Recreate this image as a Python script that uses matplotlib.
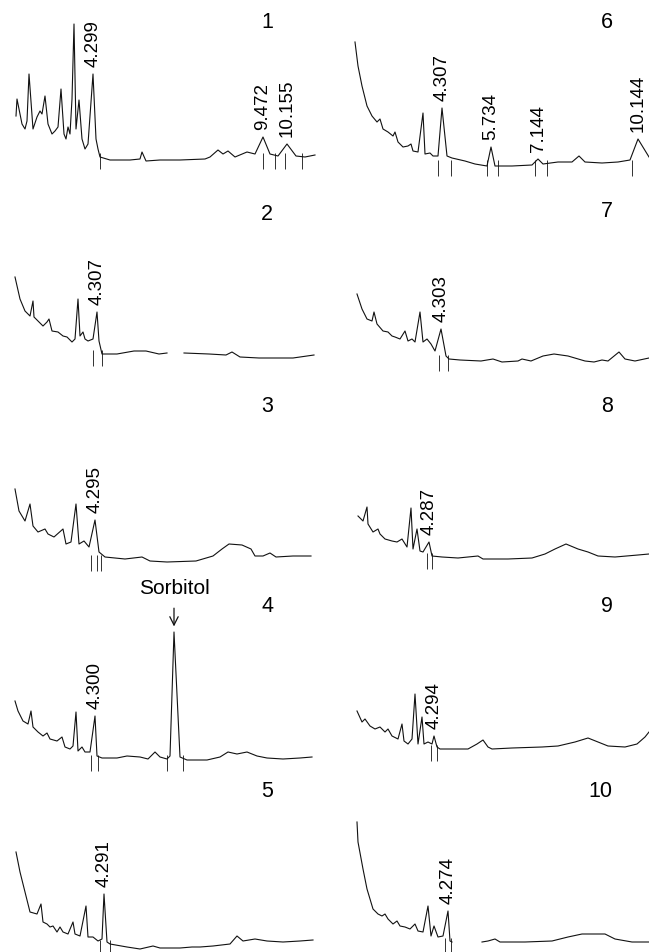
import numpy as np
import matplotlib
matplotlib.use("Agg")
import matplotlib.pyplot as plt

plt.rcParams['font.family'] = ['Liberation Sans', 'DejaVu Sans']

W, H = 649, 953

# retention time (min) and detector response for each chromatogram
p1_t = [1.98, 2.01, 2.16, 2.25, 2.31, 2.37, 2.49, 2.61, 2.70, 2.76, 2.85, 2.94, 3.06, 3.15, 3.24, 3.33,
        3.42, 3.48, 3.54, 3.60, 3.66, 3.72, 3.78, 3.87, 3.96, 4.05, 4.14, 4.29, 4.38, 4.44, 4.50, 4.80,
        5.40, 5.70, 5.76, 5.88, 6.30, 6.90, 7.65, 7.80, 8.04, 8.19, 8.34, 8.55, 8.91, 9.15, 9.39, 9.60,
        9.84, 10.11, 10.38, 10.65, 10.95]
p1_h = [41, 58, 33, 28, 36, 83, 28, 40, 46, 43, 61, 33, 23, 26, 30, 68,
        23, 18, 30, 23, 58, 133, 28, 57, 18, 8, 13, 83, 18, 8, 0, -3,
        -3, -2, 5, -4, -3, -3, -2, 0, 7, 3, 6, 0, 5, 3, 20, 3,
        1, 13, 1, 0, 2]
p1_ticks = [4.50, 9.39, 9.75, 10.05, 10.56]
p1_peaks = [("4.299", 4.29, 83), ("9.472", 9.39, 20), ("10.155", 10.11, 13)]

p2_t = [1.95, 2.10, 2.25, 2.40, 2.49, 2.52, 2.64, 2.79, 2.91, 2.97, 3.06, 3.24, 3.39, 3.51, 3.66, 3.75,
        3.84, 3.90, 3.99, 4.05, 4.14, 4.29, 4.41, 4.47, 4.56, 5.01, 5.52, 5.88, 6.27, 6.51, 6.70,
        7.02, 7.77, 8.28, 8.46, 8.70, 9.27, 10.29, 10.92]
p2_h = [77, 55, 43, 38, 53, 37, 33, 28, 32, 35, 23, 22, 18, 17, 12, 15,
        55, 18, 22, 15, 13, 15, 42, 13, 0, 0, 3, 3, 0, 1, np.nan,
        1, 0, -1, 2, -3, -4, -4, -1]
p2_ticks = [4.29, 4.56]
p2_peaks = [("4.307", 4.41, 42)]

p3_t = [1.95, 2.07, 2.25, 2.40, 2.49, 2.64, 2.85, 2.94, 3.12, 3.39, 3.48, 3.63, 3.78, 3.87, 4.02, 4.17,
        4.35, 4.47, 4.65, 5.25, 5.76, 6.00, 6.51, 7.38, 7.89, 8.16, 8.37, 8.76, 9.03, 9.15, 9.39,
        9.60, 9.78, 10.29, 10.83]
p3_h = [70, 48, 38, 55, 33, 27, 30, 25, 22, 30, 15, 17, 55, 15, 18, 12,
        39, 7, 2, 0, 2, -2, -3, -2, 3, 10, 15, 14, 10, 3, 3,
        6, 2, 3, 3]
p3_ticks = [4.23, 4.41, 4.53]
p3_peaks = [("4.295", 4.35, 39)]

p4_t = [1.95, 2.04, 2.19, 2.34, 2.43, 2.49, 2.64, 2.79, 2.91, 3.00, 3.21, 3.36, 3.45, 3.60, 3.69, 3.78,
        3.84, 3.96, 4.05, 4.20, 4.35, 4.41, 4.56, 5.01, 5.31, 5.70, 5.94, 6.15, 6.30, 6.51, 6.60,
        6.72, 6.90, 7.11, 7.71, 8.10, 8.34, 8.61, 8.91, 9.21, 9.51, 9.99, 10.50, 10.86]
p4_h = [58, 48, 38, 35, 48, 32, 27, 23, 26, 20, 18, 22, 12, 10, 13, 47,
        8, 12, 7, 7, 43, 3, 1, 1, 3, 2, 0, 7, 2, 0, 3,
        127, 2, -1, -1, 2, 7, 5, 7, 3, 1, 0, 1, 2]
p4_ticks = [4.23, 4.44, 6.51, 6.99]
p4_peaks = [("4.300", 4.35, 43)]
sorbitol_t, sorbitol_h = 6.72, 127

p5_t = [1.98, 2.10, 2.25, 2.40, 2.61, 2.73, 2.79, 2.91, 3.00, 3.09, 3.21, 3.30, 3.39, 3.54, 3.69, 3.75,
        3.90, 4.08, 4.14, 4.29, 4.44, 4.56, 4.62, 4.71, 4.80, 5.31, 5.70, 6.09, 6.30, 6.90, 7.26,
        7.50, 7.89, 8.40, 8.61, 8.79, 9.15, 9.51, 9.99, 10.50, 10.89]
p5_h = [92, 72, 52, 32, 30, 40, 22, 20, 17, 18, 12, 17, 12, 10, 22, 10,
        8, 38, 7, 7, 3, 5, 50, 2, 0, -3, -5, -2, -4, -4, -3,
        -3, -2, 0, 8, 3, 5, 3, 2, 3, 4]
p5_ticks = [4.50, 4.80]
p5_peaks = [("4.291", 4.62, 50)]

p6_t = [1.71, 1.80, 1.92, 2.07, 2.22, 2.37, 2.46, 2.55, 2.70, 2.85, 2.91, 3.00, 3.15, 3.30, 3.39, 3.45,
        3.60, 3.75, 3.81, 3.96, 4.05, 4.20, 4.32, 4.47, 4.62, 5.01, 5.31, 5.67, 5.79, 5.91, 6.42,
        7.02, 7.20, 7.35, 7.80, 8.22, 8.43, 8.61, 9.12, 9.60, 9.96, 10.20, 10.53]
p6_h = [122, 98, 78, 58, 48, 42, 45, 35, 32, 28, 32, 22, 17, 18, 20, 13,
        12, 51, 10, 11, 8, 8, 56, 8, 6, 3, 0, -2, 17, -2, -2,
        -1, 5, 0, 2, 2, 8, 2, 1, 2, 4, 25, 7]
p6_ticks = [4.20, 4.59, 5.67, 6.00, 7.11, 7.47, 10.02]
p6_peaks = [("4.307", 4.32, 56), ("5.734", 5.79, 17), ("7.144", 7.20, 5), ("10.144", 10.20, 25)]

p7_t = [1.77, 1.92, 2.07, 2.22, 2.28, 2.37, 2.55, 2.70, 2.82, 2.91, 3.06, 3.21, 3.30, 3.42, 3.51, 3.66,
        3.75, 3.87, 3.99, 4.11, 4.29, 4.44, 4.53, 4.86, 5.49, 5.85, 6.12, 6.60, 6.72, 6.99, 7.35,
        7.68, 8.10, 8.61, 8.88, 9.12, 9.30, 9.63, 9.81, 10.11, 10.53]
p7_h = [65, 50, 40, 38, 47, 35, 28, 27, 23, 22, 20, 28, 18, 20, 17, 47,
        17, 20, 15, 8, 30, 3, 0, -1, -2, 0, -3, -2, 0, -2, 3,
        5, 3, -2, -3, -1, -2, 7, 0, -2, 1]
p7_ticks = [4.23, 4.50]
p7_peaks = [("4.303", 4.29, 30)]

p8_t = [1.80, 1.95, 2.07, 2.10, 2.25, 2.40, 2.46, 2.61, 2.82, 2.97, 3.12, 3.27, 3.39, 3.45, 3.57, 3.66,
        3.75, 3.93, 4.02, 4.32, 4.80, 5.40, 5.55, 6.30, 7.02, 7.41, 7.71, 8.04, 8.40, 8.70, 9.00,
        9.51, 10.20, 10.53]
p8_h = [41, 36, 50, 33, 25, 28, 23, 18, 16, 15, 18, 10, 49, 8, 28, 6,
        5, 15, 1, 0, -1, 1, -2, -2, -1, 3, 8, 13, 8, 5, 1,
        0, 2, 3]
p8_ticks = [3.87, 4.02]
p8_peaks = [("4.287", 3.93, 15)]

p9_t = [1.77, 1.92, 2.01, 2.16, 2.31, 2.46, 2.61, 2.70, 2.82, 3.00, 3.12, 3.18, 3.30, 3.42, 3.51, 3.60,
        3.72, 3.78, 3.90, 4.02, 4.08, 4.17, 4.26, 5.10, 5.37, 5.55, 5.70, 5.82, 6.42, 7.32, 7.80,
        8.31, 8.70, 9.00, 9.30, 9.81, 10.17, 10.41, 10.53]
p9_h = [38, 27, 30, 23, 20, 22, 17, 20, 13, 10, 25, 8, 5, 10, 55, 5,
        32, 5, 7, 5, 13, 2, 0, 0, 5, 9, 2, 0, 1, 2, 3,
        7, 11, 7, 3, 2, 5, 12, 17]
p9_ticks = [3.99, 4.17]
p9_peaks = [("4.294", 4.08, 13)]

p10_t = [1.77, 1.80, 1.95, 2.07, 2.25, 2.40, 2.52, 2.61, 2.70, 2.85, 2.97, 3.06, 3.21, 3.36, 3.51, 3.60,
         3.75, 3.90, 3.99, 4.08, 4.20, 4.35, 4.50, 4.56, 4.62, 5.00, 5.52, 5.70, 5.91, 6.06, 6.81,
         7.62, 8.10, 8.52, 8.82, 9.21, 9.51, 10.02, 10.53]
p10_h = [120, 100, 73, 53, 33, 28, 26, 28, 23, 18, 21, 16, 15, 13, 18, 11,
         10, 36, 6, 16, 5, 6, 31, 1, 0, np.nan, 0, 1, 3, 0, 0,
         1, 5, 8, 8, 8, 3, 0, 0]
p10_ticks = [4.41, 4.59]
p10_peaks = [("4.274", 4.50, 31)]

LEFT_XLIM = (1.5, 11.25)
RIGHT_XLIM = (0.81, 10.53)

panels = [
    ("1", p1_t, p1_h, p1_ticks, p1_peaks, (0, 325, 0, 190), 158, LEFT_XLIM, (267, 22)),
    ("2", p2_t, p2_h, p2_ticks, p2_peaks, (0, 325, 190, 380), 355, LEFT_XLIM, (267, 215)),
    ("3", p3_t, p3_h, p3_ticks, p3_peaks, (0, 325, 380, 575), 560, LEFT_XLIM, (267, 407)),
    ("4", p4_t, p4_h, p4_ticks, p4_peaks, (0, 325, 575, 775), 760, LEFT_XLIM, (267, 607)),
    ("5", p5_t, p5_h, p5_ticks, p5_peaks, (0, 325, 775, 953), 945, LEFT_XLIM, (267, 792)),
    ("6", p6_t, p6_h, p6_ticks, p6_peaks, (325, 649, 0, 190), 165, RIGHT_XLIM, (607, 22)),
    ("7", p7_t, p7_h, p7_ticks, p7_peaks, (325, 649, 190, 380), 360, RIGHT_XLIM, (607, 212)),
    ("8", p8_t, p8_h, p8_ticks, p8_peaks, (325, 649, 380, 575), 558, RIGHT_XLIM, (607, 407)),
    ("9", p9_t, p9_h, p9_ticks, p9_peaks, (325, 649, 575, 765), 750, RIGHT_XLIM, (607, 607)),
    ("10", p10_t, p10_h, p10_ticks, p10_peaks, (325, 649, 765, 953), 943, RIGHT_XLIM, (600, 792)),
]

fig = plt.figure(figsize=(W / 100, H / 100), dpi=100)

axes = {}
for num, t, h, ticks, peaks, box, base, xlim, numxy in panels:
    x0, x1, y0, y1 = box
    ax = fig.add_axes([x0 / W, 1 - y1 / H, (x1 - x0) / W, (y1 - y0) / H])
    ax.plot(t, h, color="#111111", lw=0.8)
    ax.vlines(ticks, -12, 4, color="#111111", lw=0.6)
    for lab, tp, hp in peaks:
        ax.annotate(lab, (tp, hp), xytext=(0, 6), textcoords="offset points",
                    rotation=90, ha="center", va="bottom", fontsize=13.5)
    ax.set_xlim(xlim)
    ax.set_ylim(base - y1, base - y0)
    ax.axis("off")
    fig.text(numxy[0] / W, 1 - numxy[1] / H, num, ha="center", va="center", fontsize=15.5)
    axes[num] = ax

axes["4"].annotate("Sorbitol", (sorbitol_t, sorbitol_h), xytext=(0, 32), textcoords="offset points",
                   ha="center", va="center", fontsize=15,
                   arrowprops=dict(arrowstyle="->", color="#111111", lw=0.9, shrinkA=6, shrinkB=4))

fig.savefig("out.png", dpi=100)
